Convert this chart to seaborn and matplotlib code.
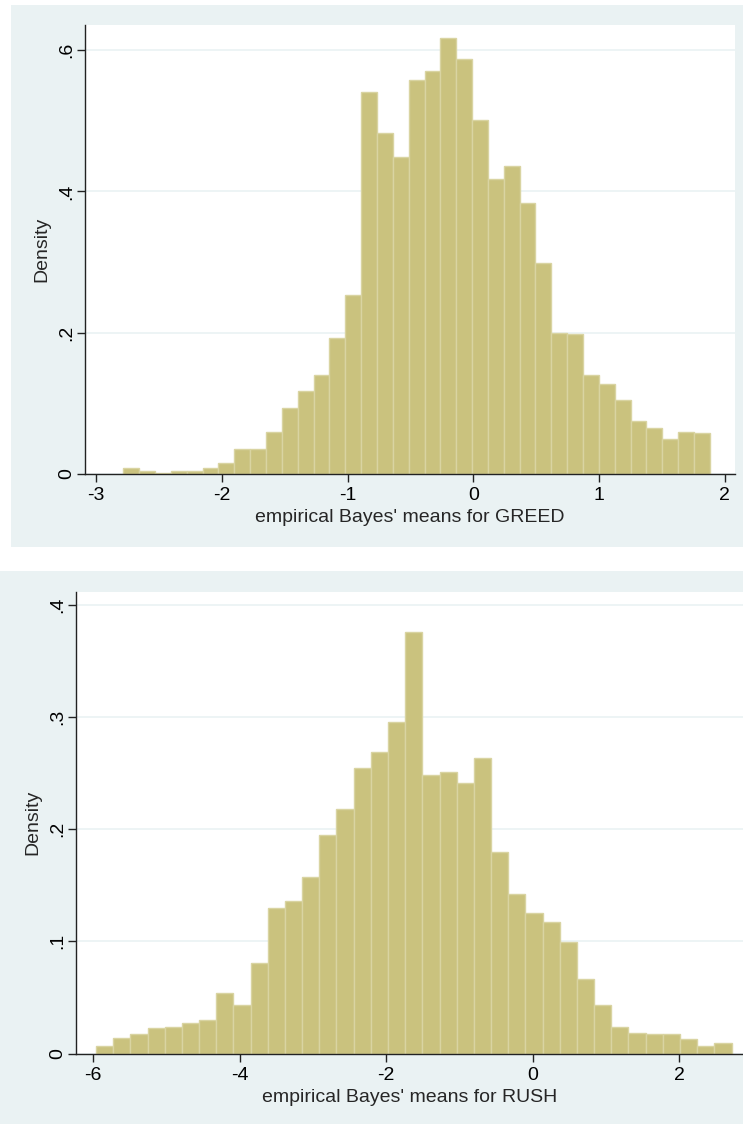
import matplotlib

matplotlib.use("Agg")
import matplotlib.pyplot as plt
from matplotlib.patches import Rectangle
import numpy as np
import seaborn as sns

# Densities (37 bins each)
greed_density = [
    0.009, 0.004, 0.002, 0.004, 0.004, 0.009, 0.015, 0.035, 0.035, 0.060,
    0.094, 0.118, 0.140, 0.193, 0.254, 0.541, 0.483, 0.448, 0.558, 0.570,
    0.617, 0.588, 0.501, 0.418, 0.436, 0.383, 0.298, 0.200, 0.198, 0.140,
    0.127, 0.105, 0.075, 0.065, 0.049, 0.060, 0.058,
]
greed_start, greed_width = -2.784, 0.1261

rush_density = [
    0.0068, 0.014, 0.017, 0.023, 0.024, 0.027, 0.030, 0.054, 0.043, 0.081,
    0.130, 0.1355, 0.1575, 0.195, 0.218, 0.254, 0.269, 0.295, 0.376, 0.248,
    0.251, 0.241, 0.263, 0.180, 0.142, 0.1254, 0.117, 0.0996, 0.066, 0.043,
    0.024, 0.018, 0.017, 0.017, 0.0125, 0.0068, 0.0098,
]
rush_start, rush_width = -5.963, 0.2345

greed_xticks = [-3, -2, -1, 0, 1, 2]
greed_yticks = [0, 0.2, 0.4, 0.6]
greed_ylabels = ["0", ".2", ".4", ".6"]
rush_xticks = [-6, -4, -2, 0, 2]
rush_yticks = [0, 0.1, 0.2, 0.3, 0.4]
rush_ylabels = ["0", ".1", ".2", ".3", ".4"]

BG = "#eaf2f3"
BAR = "#cac27e"
BAR_EDGE = "#d9d4a2"
AXIS = "#222222"

sns.set_style("white")
plt.rcParams["font.family"] = ["Liberation Sans", "DejaVu Sans"]
plt.rcParams["font.size"] = 14

fig = plt.figure(figsize=(7.43, 11.24), dpi=100)
W, H = 743.0, 1124.0

# outer graph regions (Stata s2color style), kept behind the axes
fig.patches.append(Rectangle((11 / W, 1 - 547.3 / H), (743 - 11) / W, 542.3 / H,
                             transform=fig.transFigure, facecolor=BG, edgecolor="none", zorder=-10))
fig.patches.append(Rectangle((0, 0), 1, 1 - 570.7 / H,
                             transform=fig.transFigure, facecolor=BG, edgecolor="none", zorder=-10))

ax1 = fig.add_axes([85 / W, 1 - 474 / H, (735.3 - 85) / W, (474 - 25) / H])
ax2 = fig.add_axes([76 / W, 1 - 1053.5 / H, (743 - 76) / W, (1053.5 - 592) / H])


def draw(ax, dens, start, width, xlim, ylim, xticks, yticks, ylabels, xlabel):
    n = len(dens)
    centers = start + width * (np.arange(n) + 0.5)
    sns.histplot(x=centers, weights=dens, binwidth=width,
                 binrange=(start, start + width * n), stat="count",
                 color=BAR, edgecolor=BAR_EDGE, linewidth=1.0, alpha=1, ax=ax)
    ax.set_facecolor("white")
    ax.set_xlim(*xlim)
    ax.set_ylim(*ylim)
    ax.set_xticks(xticks)
    ax.set_xticklabels([str(t) for t in xticks])
    ax.set_yticks(yticks)
    ax.set_yticklabels(ylabels, rotation=90, va="center")
    ax.grid(axis="y", color=BG, linewidth=1.2)
    ax.set_axisbelow(True)
    for s in ("top", "right"):
        ax.spines[s].set_visible(False)
    for s in ("left", "bottom"):
        ax.spines[s].set_color(AXIS)
        ax.spines[s].set_linewidth(1.0)
    ax.tick_params(axis="both", direction="out", length=6, width=1.0, color=AXIS,
                   labelsize=14, labelcolor="black", left=True, bottom=True)
    ax.tick_params(axis="x", pad=3.5)
    ax.tick_params(axis="y", pad=1)
    ax.set_xlabel(xlabel, fontsize=14, labelpad=3.5)
    ax.set_ylabel("Density", fontsize=14, labelpad=6)


draw(ax1, greed_density, greed_start, greed_width, (-3.089, 2.084), (0, 0.6355),
     greed_xticks, greed_yticks, greed_ylabels, "empirical Bayes' means for GREED")
draw(ax2, rush_density, rush_start, rush_width, (-6.236, 2.87), (0, 0.4113),
     rush_xticks, rush_yticks, rush_ylabels, "empirical Bayes' means for RUSH")

fig.savefig("out.png", dpi=100)
